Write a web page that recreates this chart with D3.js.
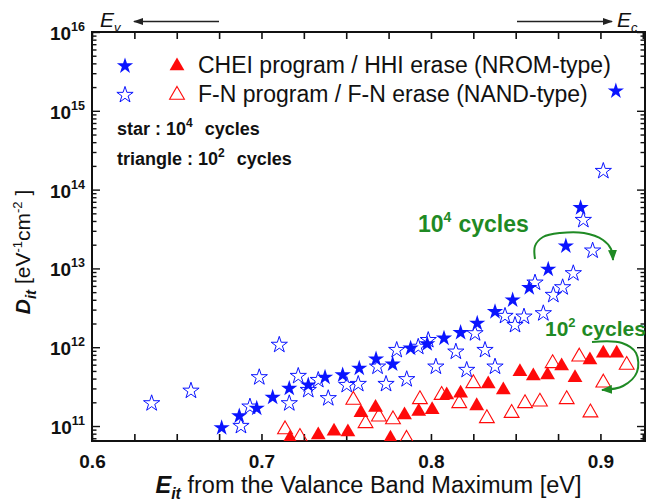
<!DOCTYPE html>
<html>
<head>
<meta charset="utf-8">
<script src="https://cdn.jsdelivr.net/npm/d3@7"></script>
<style>
  html, body { margin: 0; padding: 0; background: #fff; }
  svg { display: block; }
  text { font-family: "Liberation Sans", Arial, Helvetica, sans-serif; fill: #111; }
</style>
</head>
<body>
<svg id="chart" width="651" height="503"></svg>
<script>
// ---- Data: [trap energy Eit (eV), Dit (eV^-1 cm^-2)] ----
// CHEI program / HHI erase (NROM-type), 10^4 cycles (filled stars)
const nromStar = [
  [0.6765, 9.5e10], [0.6869, 1.34e11], [0.6972, 1.68e11], [0.7066, 2.31e11],
  [0.7164, 3.0e11], [0.7276, 3.31e11], [0.7375, 4.15e11], [0.7479, 4.44e11],
  [0.7577, 5.4e11], [0.7676, 7.08e11], [0.7774, 6.1e11], [0.7880, 9.7e11],
  [0.7978, 1.1e12], [0.8077, 1.3e12], [0.8175, 1.53e12], [0.8273, 2.01e12],
  [0.8378, 2.82e12], [0.8482, 3.97e12], [0.8580, 5.69e12], [0.8692, 9.75e12],
  [0.8796, 1.92e13], [0.8883, 5.89e13], [0.9091, 1.78e15]
];
// F-N program / F-N erase (NAND-type), 10^4 cycles (open stars)
const nandStar = [
  [0.6352, 1.94e11], [0.6584, 2.8e11], [0.6879, 1.0e11], [0.6932, 1.76e11],
  [0.6987, 4.15e11], [0.7105, 1.07e12], [0.7164, 1.94e11], [0.7217, 4.31e11],
  [0.7276, 2.86e11], [0.7335, 3.83e11], [0.7394, 2.25e11], [0.7503, 3.31e11],
  [0.7571, 3.41e11], [0.7685, 5.66e11], [0.7735, 3.41e11], [0.7798, 9.2e11],
  [0.7857, 3.92e11], [0.7925, 1.01e12], [0.7984, 1.23e12], [0.8029, 5.66e11],
  [0.8147, 8.77e11], [0.8211, 5.14e11], [0.8260, 1.5e12], [0.8319, 9.2e11],
  [0.8378, 5.66e11], [0.8437, 2.49e12], [0.8496, 1.91e12], [0.8549, 2.44e12],
  [0.8614, 6.59e12], [0.8663, 2.69e12], [0.8722, 4.6e12], [0.8777, 5.75e12],
  [0.8840, 8.66e12], [0.8899, 4.11e13], [0.8954, 1.68e13], [0.9017, 1.72e14]
];
// CHEI program / HHI erase (NROM-type), 10^2 cycles (filled triangles)
const nromTri = [
  [0.7168, 6.98e10], [0.7335, 7.69e10], [0.7428, 8.57e10], [0.7510, 8.39e10],
  [0.7587, 1.48e11], [0.7673, 1.72e11], [0.7761, 6.98e10], [0.7844, 1.38e11],
  [0.7928, 1.53e11], [0.8007, 1.61e11], [0.8093, 2.47e11], [0.8175, 2.6e11],
  [0.8270, 1.8e11], [0.8338, 3.41e11], [0.8427, 2.86e11], [0.8525, 4.89e11],
  [0.8604, 4.31e11], [0.8688, 4.44e11], [0.8771, 5.77e11], [0.8850, 4.1e11],
  [0.8938, 6.88e11], [0.9017, 8.37e11], [0.9096, 8.37e11]
];
// F-N program / F-N erase (NAND-type), 10^2 cycles (open triangles)
const nandTri = [
  [0.7139, 9.03e10], [0.7227, 7.25e10], [0.7542, 2.14e11], [0.7614, 1.08e11],
  [0.7693, 1.31e11], [0.7776, 1.21e11], [0.7856, 6.84e10], [0.7935, 2.18e11],
  [0.8063, 2.47e11], [0.8167, 1.94e11], [0.8250, 3.48e11], [0.8330, 1.25e11],
  [0.8476, 1.46e11], [0.8555, 1.94e11], [0.8643, 2.03e11], [0.8718, 6.25e11],
  [0.8801, 2.18e11], [0.8875, 7.57e11], [0.8941, 1.48e11], [0.9017, 3.54e11],
  [0.9155, 5.94e11]
];

// ---- Axes ----
const xDomain = [0.6, 0.9263];
const yDomain = [Math.pow(10, 10.81), 1e16];
const xTickLabels = [0.6, 0.7, 0.8, 0.9];
const yExponents = [11, 12, 13, 14, 15, 16];

const legendLabels = [
  "CHEI program / HHI erase (NROM-type)",
  "F-N program / F-N erase (NAND-type)"
];

const BLUE = "#0a14ff", RED = "#ff0a0a", GREEN = "#1f8a24";
const svg = d3.select("#chart");
const L = 92, R = 645, T = 32, B = 441;

const x = d3.scaleLinear().domain(xDomain).range([L, R]);
const y = d3.scaleLog().domain(yDomain).range([B, T]);

const defs = svg.append("defs");
defs.append("clipPath").attr("id", "plotClip")
  .append("rect").attr("x", L).attr("y", T).attr("width", R - L).attr("height", B - T);

function arrowMarker(id, color, w, h) {
  defs.append("marker").attr("id", id)
    .attr("viewBox", `0 0 ${w} ${h}`).attr("refX", w - 1).attr("refY", h / 2)
    .attr("markerWidth", w).attr("markerHeight", h)
    .attr("markerUnits", "userSpaceOnUse").attr("orient", "auto")
    .append("path").attr("d", `M0,0L${w},${h / 2}L0,${h}Z`).attr("fill", color);
}
arrowMarker("headBlack", "#222", 10, 7);
arrowMarker("headGreen", GREEN, 11, 9);

// x ticks every 0.025 on bottom and top, pointing inward
const xTickVals = d3.range(0, 14).map(i => +(xDomain[0] + i * 0.025).toFixed(3));
const isXLabel = d => xTickLabels.some(v => Math.abs(v - d) < 1e-6);

const gxb = svg.append("g").attr("transform", `translate(0,${B})`)
  .call(d3.axisBottom(x).tickValues(xTickVals).tickSizeInner(-7).tickSizeOuter(0)
    .tickPadding(14).tickFormat(d => isXLabel(d) ? d.toFixed(1) : ""));
gxb.select(".domain").remove();
gxb.selectAll(".tick line").attr("stroke", "#111").attr("stroke-width", 1.6);
gxb.selectAll(".tick text").attr("font-size", 19).attr("font-weight", "bold").attr("fill", "#111");

const gxt = svg.append("g").attr("transform", `translate(0,${T})`)
  .call(d3.axisTop(x).tickValues(xTickVals).tickSizeInner(-7).tickSizeOuter(0).tickFormat(""));
gxt.select(".domain").remove();
gxt.selectAll(".tick line").attr("stroke", "#111").attr("stroke-width", 1.6);

// y ticks: decades long, 2..9 short, on left and right
const yMajor = yExponents.map(e => Math.pow(10, e));
const yMinor = [];
for (let e = 10; e < 16; e++) for (let m = 2; m <= 9; m++) {
  const v = m * Math.pow(10, e);
  if (v >= yDomain[0] && v <= yDomain[1]) yMinor.push(v);
}
function yTicks(axisFn, xpos) {
  [[yMinor, 4.5], [yMajor, 8]].forEach(([vals, len]) => {
    const g = svg.append("g").attr("transform", `translate(${xpos},0)`)
      .call(axisFn(y).tickValues(vals).tickSizeInner(-len).tickSizeOuter(0).tickFormat(""));
    g.select(".domain").remove();
    g.selectAll(".tick line").attr("stroke", "#111").attr("stroke-width", 1.4);
  });
}
yTicks(d3.axisLeft, L);
yTicks(d3.axisRight, R);

// y tick labels 10^n
yExponents.forEach(e => {
  const t = svg.append("text").attr("x", 85).attr("y", y(Math.pow(10, e)) + 8)
    .attr("text-anchor", "end").attr("font-size", 19).attr("font-weight", "bold");
  t.append("tspan").text("10");
  t.append("tspan").attr("dy", -9).attr("font-size", 12.5).text(e);
});

// frame
svg.append("rect").attr("x", L).attr("y", T).attr("width", R - L).attr("height", B - T)
  .attr("fill", "none").attr("stroke", "#111").attr("stroke-width", 2);

// ---- Data marks ----
const star = d3.symbol().type(d3.symbolStar).size(82);
const tri = d3.symbol().type(d3.symbolTriangle).size(95);
const marks = svg.append("g").attr("clip-path", "url(#plotClip)");

function drawSeries(data, sym, fill, stroke, sw) {
  marks.append("g").selectAll("path").data(data).join("path")
    .attr("transform", d => `translate(${x(d[0])},${y(d[1])})`)
    .attr("d", sym)
    .attr("fill", fill).attr("stroke", stroke).attr("stroke-width", sw);
}
drawSeries(nromStar, star, BLUE, "none", 0);
drawSeries(nandStar, star, "none", BLUE, 1);
drawSeries(nromTri, tri, RED, "none", 0);
drawSeries(nandTri, tri, "none", RED, 1.1);

// ---- Legend ----
const lg = svg.append("g");
[[73, BLUE, "none", RED, "none"], [102, "none", BLUE, "none", RED]].forEach((r, i) => {
  const [base, sFill, sStroke, tFill, tStroke] = r;
  lg.append("path").attr("transform", `translate(125,${base - 7})`).attr("d", star)
    .attr("fill", sFill).attr("stroke", sStroke).attr("stroke-width", 1);
  lg.append("path").attr("transform", `translate(177,${base - 7})`).attr("d", tri)
    .attr("fill", tFill).attr("stroke", tStroke).attr("stroke-width", 1.1);
  lg.append("text").attr("x", 198).attr("y", base).attr("font-size", 23).text(legendLabels[i]);
});

function cycleNote(x0, yb, word, exp, size, supSize, gap, color) {
  const t = svg.append("text").attr("x", x0).attr("y", yb).attr("font-size", size)
    .attr("font-weight", "bold");
  if (color) t.style("fill", color);
  t.append("tspan").text(word);
  t.append("tspan").attr("dy", -size * 0.45).attr("font-size", supSize).text(exp);
  t.append("tspan").attr("dy", size * 0.45).attr("dx", gap).text("cycles");
  return t;
}
cycleNote(117, 135, "star : 10", "4", 18, 12, 12);
cycleNote(117, 165, "triangle : 10", "2", 18, 12, 12);

// ---- Band-edge arrows ----
const ev = svg.append("text").attr("x", 100).attr("y", 27).attr("font-size", 21).attr("font-style", "italic");
ev.append("tspan").text("E");
ev.append("tspan").attr("dy", 5).attr("font-size", 13).text("v");
svg.append("line").attr("x1", 219).attr("y1", 21.5).attr("x2", 134).attr("y2", 21.5)
  .attr("stroke", "#222").attr("stroke-width", 1.6).attr("marker-end", "url(#headBlack)");

const ec = svg.append("text").attr("x", 617).attr("y", 27).attr("font-size", 21).attr("font-style", "italic");
ec.append("tspan").text("E");
ec.append("tspan").attr("dy", 5).attr("font-size", 13).text("c");
svg.append("line").attr("x1", 517).attr("y1", 21.5).attr("x2", 612).attr("y2", 21.5)
  .attr("stroke", "#222").attr("stroke-width", 1.6).attr("marker-end", "url(#headBlack)");

// ---- Cycle annotations with curved arrows ----
cycleNote(418, 232, "10", "4", 23, 14, 7, GREEN);
cycleNote(545, 336, "10", "2", 21, 13, 6, GREEN);

const curve = d3.line().curve(d3.curveCatmullRom.alpha(0.5));
svg.append("path")
  .attr("d", curve([[535, 259], [535, 246], [543, 237], [560, 233], [584, 233], [603, 240], [611, 249], [613, 260]]))
  .attr("fill", "none").attr("stroke", GREEN).attr("stroke-width", 2).attr("marker-end", "url(#headGreen)");
svg.append("path")
  .attr("d", curve([[592, 342], [622, 343], [636, 353], [637, 372], [623, 386], [602, 390]]))
  .attr("fill", "none").attr("stroke", GREEN).attr("stroke-width", 2).attr("marker-end", "url(#headGreen)");

// ---- Axis titles ----
const xt = svg.append("text").attr("x", (L + R) / 2).attr("y", 493)
  .attr("text-anchor", "middle").attr("font-size", 23.5);
xt.append("tspan").attr("font-weight", "bold").attr("font-style", "italic").text("E");
xt.append("tspan").attr("dy", 6).attr("font-size", 16).attr("font-weight", "bold").attr("font-style", "italic").text("it");
xt.append("tspan").attr("dy", -6).text(" from the Valance Band Maximum [eV]");

const yt = svg.append("text").attr("transform", "translate(30,252) rotate(-90)")
  .attr("text-anchor", "middle").attr("font-size", 21);
yt.append("tspan").attr("font-weight", "bold").attr("font-style", "italic").text("D");
yt.append("tspan").attr("dy", 6).attr("font-size", 15).attr("font-weight", "bold").attr("font-style", "italic").text("it");
yt.append("tspan").attr("dy", -6).text(" [eV");
yt.append("tspan").attr("dy", -8).attr("font-size", 13).text("-1");
yt.append("tspan").attr("dy", 8).text("cm");
yt.append("tspan").attr("dy", -8).attr("font-size", 13).text("-2");
yt.append("tspan").attr("dy", 8).text(" ]");
</script>
</body>
</html>
